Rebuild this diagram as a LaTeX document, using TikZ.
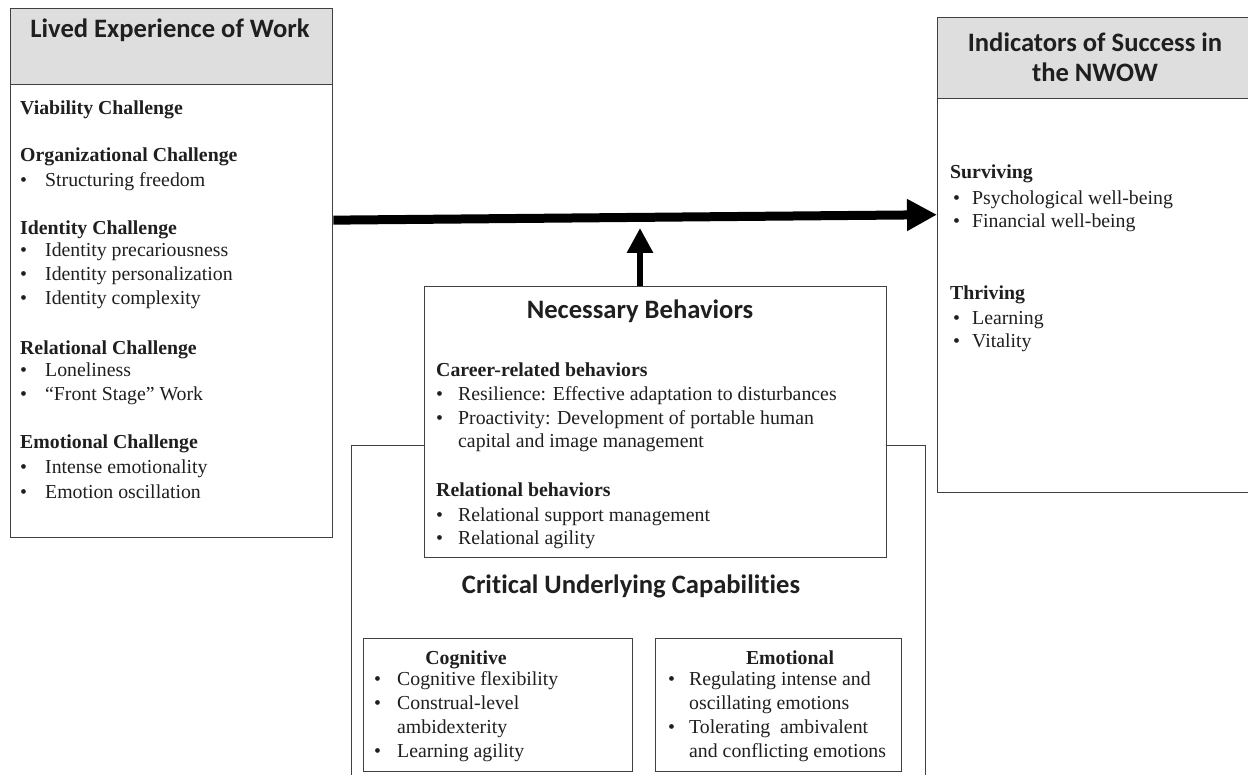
\documentclass[tikz,border=0pt]{standalone}
\usepackage{fontspec}
\setmainfont{Liberation Serif}
\newfontfamily\hdfont[Ligatures=NoCommon]{Carlito}
\usetikzlibrary{arrows.meta,calc}
\newcommand\bul[1]{\makebox[#1][l]{\textbullet}}
\begin{document}
\begin{tikzpicture}[x=1pt,y=-1pt,
 box/.style={draw=black!75,line width=1.4pt,fill=white,inner sep=0,anchor=north west},
 hdr/.style={draw=black!75,line width=1.4pt,fill=black!13,inner sep=0,anchor=north west},
 ttl/.style={font=\hdfont\bfseries\fontsize{26.6}{30}\selectfont,text=black!88,align=center,inner sep=0},
 sub/.style={font=\bfseries\fontsize{19.8}{24}\selectfont,anchor=base west,inner sep=0,text=black!88,yshift=-1.5pt},
 itm/.style={font=\fontsize{19.8}{24}\selectfont,anchor=base west,inner sep=0,text=black!88,yshift=-1.5pt},
 csub/.style={font=\bfseries\fontsize{19.8}{24}\selectfont,anchor=base,inner sep=0,text=black!88,yshift=-1.5pt},
 bigarrow/.style={line width=9pt,-{Triangle[length=30pt,width=30pt]},black},
 uparrow/.style={line width=6pt,-{Triangle[length=25pt,width=25pt]},black},
]
\useasboundingbox (0,0) rectangle (1248,775);
\clip (0,0) rectangle (1248,775);

% ---- Left box
\node[box,minimum width=322pt,minimum height=529pt] (L) at (10,8) {};
\node[hdr,minimum width=322pt,minimum height=76pt] (Lh) at (10,8) {};
\node[ttl] (Lt) at (170,30) {Lived Experience of Work};
\node[sub] (l1) at (20,113) {Viability Challenge};
\node[sub] (l2) at (20,160) {Organizational Challenge};
\node[itm] (l3) at (20,185) {\bul{25pt}Structuring freedom};
\node[sub] (l4) at (20,233) {Identity Challenge};
\node[itm] (l5) at (20,255) {\bul{25pt}Identity precariousness};
\node[itm] (l6) at (20,279) {\bul{25pt}Identity personalization};
\node[itm] (l7) at (20,303) {\bul{25pt}Identity complexity};
\node[sub] (l8) at (20,353) {Relational Challenge};
\node[itm] (l9) at (20,375) {\bul{25pt}Loneliness};
\node[itm] (l10) at (20,399) {\bul{25pt}``Front Stage'' Work};
\node[sub] (l11) at (20,447) {Emotional Challenge};
\node[itm] (l12) at (20,472) {\bul{25pt}Intense emotionality};
\node[itm] (l13) at (20,497) {\bul{25pt}Emotion oscillation};

% ---- Right box
\node[box,minimum width=330pt,minimum height=475pt] (R) at (937,17) {};
\node[hdr,minimum width=330pt,minimum height=81pt] (Rh) at (937,17) {};
\node[ttl] (Rt) at (1095,57) {Indicators of Success in\\the NWOW};
\node[sub] (r1) at (950,177) {Surviving};
\node[itm] (r2) at (953,203) {\bul{19pt}Psychological well-being};
\node[itm] (r3) at (953,226) {\bul{19pt}Financial well-being};
\node[sub] (r4) at (950,298) {Thriving};
\node[itm] (r5) at (953,323) {\bul{19pt}Learning};
\node[itm] (r6) at (953,346) {\bul{19pt}Vitality};

% ---- Critical underlying capabilities
\node[box,minimum width=574pt,minimum height=340pt] (C) at (351,445) {};
\node[ttl] (Ct) at (631,586) {Critical Underlying Capabilities};
\node[box,minimum width=269pt,minimum height=133pt] (Cg) at (363,638) {};
\node[csub] (g0) at (466,663) {Cognitive};
\node[itm] (g1) at (374,684) {\bul{23pt}Cognitive flexibility};
\node[itm] (g2) at (374,708) {\bul{23pt}Construal-level};
\node[itm] (g3) at (397,732) {ambidexterity};
\node[itm] (g4) at (374,756) {\bul{23pt}Learning agility};
\node[box,minimum width=246pt,minimum height=133pt] (Ce) at (655,638) {};
\node[csub] (e0) at (790,663) {Emotional};
\node[itm] (e1) at (668,684) {\bul{21pt}Regulating intense and};
\node[itm] (e2) at (689,708) {oscillating emotions};
\node[itm] (e3) at (668,732) {\bul{21pt}Tolerating\ \ ambivalent};
\node[itm] (e4) at (689,756) {and conflicting emotions};

% ---- Necessary behaviors
\node[box,minimum width=462pt,minimum height=271pt] (N) at (424,286) {};
\node[ttl] (Nt) at (640,311) {Necessary Behaviors};
\node[sub] (n1) at (436,375) {Career-related behaviors};
\node[itm] (n2) at (436,399) {\bul{22pt}Resilience: Effective adaptation to disturbances};
\node[itm] (n3) at (436,423) {\bul{22pt}Proactivity: Development of portable human};
\node[itm] (n4) at (458,446) {capital and image management};
\node[sub] (n5) at (436,495) {Relational behaviors};
\node[itm] (n6) at (436,520) {\bul{22pt}Relational support management};
\node[itm] (n7) at (436,543) {\bul{22pt}Relational agility};

% ---- Arrows
\draw[bigarrow] ($(L.north east)!0.40!(L.south east)$) -- ($(R.north west)!0.415!(R.south west)$);
\coordinate (tip) at (640,228);
\draw[uparrow] (N.north -| tip) -- (tip);
\end{tikzpicture}
\end{document}
